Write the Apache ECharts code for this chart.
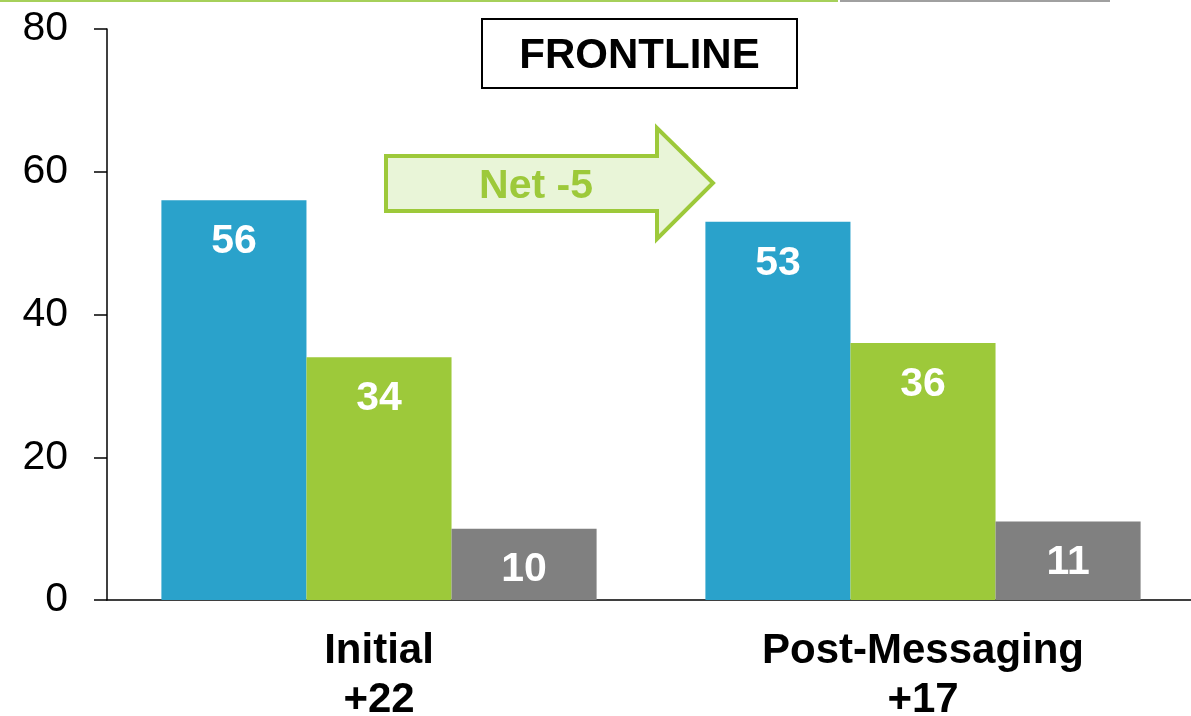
<!DOCTYPE html>
<html>
<head>
<meta charset="utf-8">
<script src="https://cdn.jsdelivr.net/npm/echarts@6/dist/echarts.min.js"></script>
<style>
  html, body { margin: 0; padding: 0; background: #fff; }
  #chart { width: 1191px; height: 716px; }
</style>
</head>
<body>
<div id="chart"></div>
<script>
// data
const categories = ["Initial", "Post-Messaging"];
const netLabels = ["+22", "+17"];
const blueValues = [56, 53];
const greenValues = [34, 36];
const grayValues = [10, 11];
const yTicks = { min: 0, max: 80, interval: 20 };

const chart = echarts.init(document.getElementById("chart"));

const barLabel = {
  show: true,
  position: "insideTop",
  distance: 21,
  color: "#fff",
  fontFamily: "Liberation Sans, Arial",
  fontWeight: "bold",
  fontSize: 41,
};

chart.setOption({
  animation: false,
  textStyle: { fontFamily: "Liberation Sans, Arial" },
  grid: { left: 107, right: -4, top: 29, bottom: 116, outerBoundsMode: "none" },
  xAxis: {
    type: "category",
    data: categories,
    axisLine: { lineStyle: { color: "#000", width: 1.5 } },
    axisTick: { show: false },
    axisLabel: {
      margin: 27,
      color: "#000",
      fontWeight: "bold",
      fontSize: 42,
      lineHeight: 49,
      formatter: (v, i) => v + "\n" + netLabels[i],
    },
  },
  yAxis: {
    type: "value",
    min: yTicks.min,
    max: yTicks.max,
    interval: yTicks.interval,
    splitLine: { show: false },
    axisLine: { show: true, lineStyle: { color: "#000", width: 1.5 } },
    axisTick: { show: true, length: 13, lineStyle: { color: "#000", width: 1.5 } },
    axisLabel: { margin: 39, color: "#000", fontSize: 41 },
  },
  series: [
    {
      type: "bar",
      data: blueValues,
      barGap: "0%",
      barCategoryGap: "20%",
      itemStyle: { color: "#2aa2cb" },
      label: barLabel,
    },
    {
      type: "bar",
      data: greenValues,
      itemStyle: { color: "#9dc93a" },
      label: barLabel,
    },
    {
      type: "bar",
      data: grayValues,
      itemStyle: { color: "#808080" },
      label: barLabel,
    },
  ],
  graphic: [
    // thin rule along the top edge
    { type: "line", shape: { x1: 0, y1: 1, x2: 838, y2: 1 }, style: { stroke: "#a6d05a", lineWidth: 2 } },
    { type: "line", shape: { x1: 840, y1: 1, x2: 1110, y2: 1 }, style: { stroke: "#a0a0a0", lineWidth: 2 } },
    // title box
    {
      type: "rect",
      shape: { x: 482, y: 19, width: 315, height: 69 },
      style: { fill: "#fff", stroke: "#000", lineWidth: 2 },
    },
    {
      type: "text",
      x: 639.5, y: 56,
      style: {
        text: "FRONTLINE",
        fill: "#000",
        font: "bold 42px 'Liberation Sans', Arial",
        align: "center",
        verticalAlign: "middle",
      },
    },
    // arrow
    {
      type: "polygon",
      shape: {
        points: [[386, 156], [657, 156], [657, 128], [713, 183], [657, 239], [657, 211], [386, 211]],
      },
      style: { fill: "#e9f5d8", stroke: "#9dc93a", lineWidth: 4 },
    },
    {
      type: "text",
      x: 536, y: 187,
      style: {
        text: "Net -5",
        fill: "#9dc93a",
        font: "bold 41px 'Liberation Sans', Arial",
        align: "center",
        verticalAlign: "middle",
      },
    },
  ],
});
</script>
</body>
</html>
